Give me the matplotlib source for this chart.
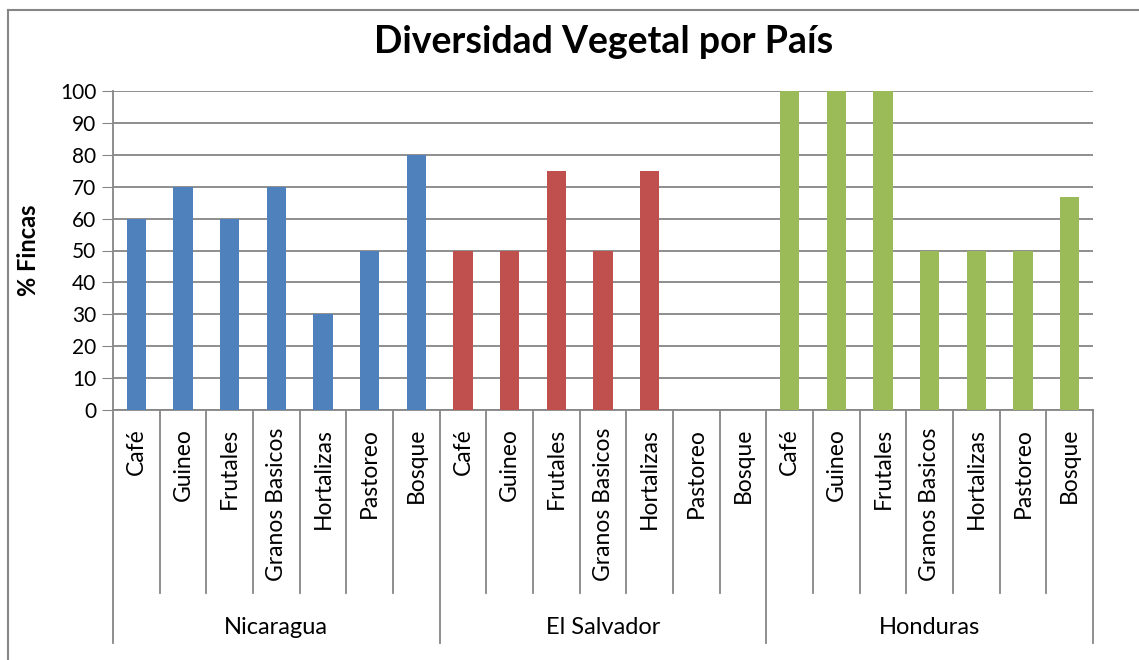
import matplotlib.pyplot as plt
from matplotlib.lines import Line2D

countries = ["Nicaragua", "El Salvador", "Honduras"]
crops = ["Café", "Guineo", "Frutales", "Granos Basicos", "Hortalizas", "Pastoreo", "Bosque"]
nicaragua = [60, 70, 60, 70, 30, 50, 80]
el_salvador = [50, 50, 75, 50, 75, 0, 0]
honduras = [100, 100, 100, 50, 50, 50, 66.7]
colors = ["#4F81BD", "#C0504D", "#9BBB59"]

plt.rcParams["font.family"] = ["Lato", "DejaVu Sans"]
grid_col = "#868686"

W, H = 1139, 660
fig = plt.figure(figsize=(W / 100, H / 100), dpi=100)
ax = fig.add_axes([113 / W, (H - 410) / H, 980 / W, 319 / H])

series = [nicaragua, el_salvador, honduras]
n = len(crops)
for g, vals in enumerate(series):
    xs = [g * n + i for i in range(n)]
    ax.bar(xs, vals, width=0.41, color=colors[g], zorder=3)

ax.set_xlim(-0.5, len(countries) * n - 0.5)
ax.set_ylim(0, 100)
ax.set_yticks(range(0, 101, 10))
ax.tick_params(axis="y", labelsize=15, length=8, color=grid_col, pad=4)
ax.yaxis.grid(True, color=grid_col, linewidth=1.3, zorder=0)

labels = crops * len(countries)
ax.set_xticks(range(len(labels)))
ax.set_xticklabels(labels, rotation=90, fontsize=16.5, va="top")
ax.tick_params(axis="x", length=0, pad=13)

for s in ["top", "right"]:
    ax.spines[s].set_visible(False)
for s in ["left", "bottom"]:
    ax.spines[s].set_color(grid_col)
    ax.spines[s].set_linewidth(1.3)

# category separators below the axis
tr = ax.get_xaxis_transform()
for k in range(len(labels) + 1):
    outer = k % n == 0
    y_end = -0.730 if outer else -0.574
    ax.add_line(Line2D([k - 0.5, k - 0.5], [0, y_end], transform=tr,
                       color=grid_col, linewidth=1.3, clip_on=False))

for g, name in enumerate(countries):
    ax.text(g * n + (n - 1) / 2, -0.683, name, transform=tr,
            ha="center", va="center", fontsize=17)

ax.set_ylabel("% Fincas", fontsize=17, fontweight="bold")
ax.yaxis.set_label_coords(-73 / 980, 0.5)

fig.text(604 / W, 1 - 42 / H, "Diversidad Vegetal por País", ha="center",
         va="center", fontsize=27, fontweight="bold")

# outer chart frame (left and top visible)
fig.add_artist(Line2D([8 / W, 8 / W], [0, 1 - 10 / H], color=grid_col, linewidth=1.5))
fig.add_artist(Line2D([8 / W, 1], [1 - 10 / H, 1 - 10 / H], color=grid_col, linewidth=1.5))

fig.savefig("out.png", dpi=100)
